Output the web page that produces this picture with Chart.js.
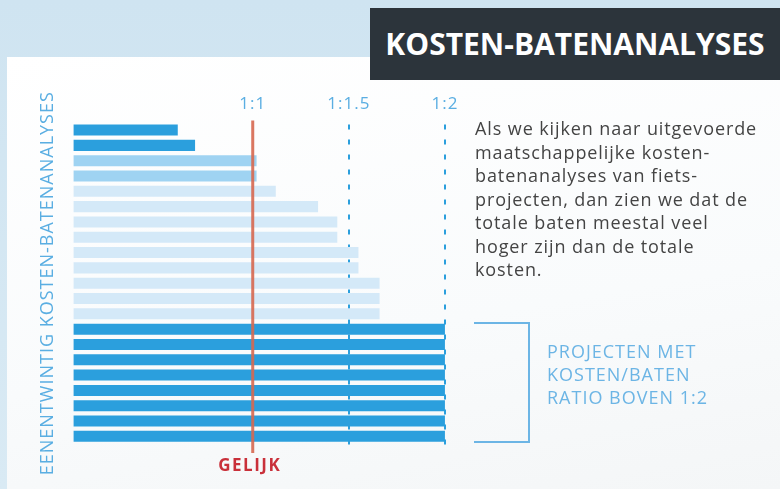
<!DOCTYPE html>
<html>
<head>
<meta charset="utf-8">
<script src="https://cdn.jsdelivr.net/npm/chart.js@4/dist/chart.umd.min.js"></script>
<style>
  html, body { margin:0; padding:0; }
  body { width:780px; height:489px; position:relative; overflow:hidden;
         background: linear-gradient(180deg,#cfe4f1 0%,#d9eaf4 100%);
         font-family: "Open Sans", "Noto Sans", sans-serif; }
  #panel { position:absolute; left:7px; top:57px; width:773px; height:432px;
           background: linear-gradient(170deg,#ffffff 0%,#f9fbfc 60%,#f4f6f7 100%); }
  #wrap { position:absolute; left:0; top:0; width:780px; height:489px; }
  #title { position:absolute; left:370px; top:8px; width:410px; height:72px;
           background:#2c343b; color:#fff; font-weight:700; font-size:30px;
           line-height:72px; text-align:center; letter-spacing:0px; }
  #para { position:absolute; left:475px; top:117px; width:310px; color:#444;
          font-size:18px; line-height:23.5px; letter-spacing:0.9px; white-space:nowrap; }
  #bracket { position:absolute; left:474px; top:322px; width:54px; height:117px;
             border:2px solid #6cb5e5; border-left:none; }
  #note { position:absolute; left:547px; top:340px; color:#6cb5e5; font-size:18px; line-height:23px;
          letter-spacing:1px; white-space:nowrap; }
</style>
</head>
<body>
<div id="panel"></div>
<div id="wrap"><canvas id="c" width="780" height="489"></canvas></div>
<div id="title">KOSTEN-BATENANALYSES</div>
<div id="para">Als we kijken naar uitgevoerde<br>maatschappelijke kosten-<br>batenanalyses van fiets-<br>projecten, dan zien we dat de<br>totale baten meestal veel<br>hoger zijn dan de totale<br>kosten.</div>
<div id="bracket"></div>
<div id="note">PROJECTEN MET<br>KOSTEN/BATEN<br>RATIO BOVEN 1:2</div>
<script>
const categories = ["1","2","3","4","5","6","7","8","9","10","11","12","13","14","15","16","17","18","19","20","21"];
const ratios = [0.61,0.70,1.02,1.02,1.12,1.34,1.44,1.44,1.55,1.55,1.66,1.66,1.66,2.0,2.0,2.0,2.0,2.0,2.0,2.0,2.0];
const tickValues = [1, 1.5, 2];
const tickLabels = ["1:1", "1:1.5", "1:2"];
const equalValue = 1;
const equalLabel = "GELIJK";
const axisTitle = "EENENTWINTIG KOSTEN-BATENANALYSES";

const barColors = ratios.map(v => v >= 2 ? "#2b9fdd" : (v < 0.9 ? "#2b9fdd" : (v < 1.1 ? "#9fd3f2" : "#d4e9f8")));

const spacing = {
  id: "spacing",
  beforeDraw(chart) { chart.ctx.letterSpacing = "1px"; }
};

const refLines = {
  id: "refLines",
  beforeDatasetsDraw(chart) {
    const {ctx, chartArea, scales:{x}} = chart;
    ctx.save();
    ctx.strokeStyle = "#2b9fdd";
    ctx.lineWidth = 2;
    ctx.setLineDash([5, 10]);
    [1.5, 2].forEach(v => {
      const px = Math.round(x.getPixelForValue(v));
      ctx.beginPath();
      ctx.moveTo(px, chartArea.top + 2);
      ctx.lineTo(px, chartArea.bottom + 8);
      ctx.stroke();
    });
    ctx.restore();
  },
  afterDatasetsDraw(chart) {
    const {ctx, chartArea, scales:{x}} = chart;
    const px = x.getPixelForValue(equalValue);
    ctx.save();
    ctx.strokeStyle = "rgba(214,104,80,0.9)";
    ctx.lineWidth = 3;
    ctx.beginPath();
    ctx.moveTo(px, chartArea.top - 2);
    ctx.lineTo(px, chartArea.bottom + 9);
    ctx.stroke();
    ctx.fillStyle = "#c9303a";
    ctx.letterSpacing = "1.5px";
    ctx.font = "bold 17px 'Open Sans', sans-serif";
    ctx.textAlign = "center";
    ctx.textBaseline = "middle";
    ctx.fillText(equalLabel, px - 3, chartArea.bottom + 22);
    ctx.restore();
  }
};

new Chart(document.getElementById("c"), {
  type: "bar",
  data: {
    labels: categories,
    datasets: [{
      data: ratios,
      backgroundColor: barColors,
      borderWidth: 0,
      categoryPercentage: 1,
      barPercentage: 0.72
    }]
  },
  plugins: [spacing, refLines],
  options: {
    indexAxis: "y",
    responsive: false,
    animation: false,
    events: [],
    layout: { padding: { left: 30, right: 322, top: 86, bottom: 45 } },
    plugins: { legend: { display: false }, tooltip: { enabled: false } },
    scales: {
      x: {
        position: "top",
        min: 0.068,
        max: 2.068,
        afterBuildTicks(axis) { axis.ticks = tickValues.map(v => ({ value: v })); },
        ticks: {
          color: "#5aaee2",
          font: { size: 17, family: "'Open Sans', sans-serif" },
          padding: 8,
          maxRotation: 0,
          callback(value) { const i = tickValues.indexOf(value); return i >= 0 ? tickLabels[i] : ""; }
        },
        grid: { display: false, drawTicks: false },
        border: { display: false }
      },
      y: {
        ticks: { display: false },
        grid: { display: false, drawTicks: false },
        border: { display: false },
        title: {
          display: true,
          text: axisTitle,
          color: "#5aaee2",
          font: { size: 18, family: "'Open Sans', sans-serif" },
          padding: { top: 7, bottom: 15 }
        }
      }
    }
  }
});
</script>
</body>
</html>
